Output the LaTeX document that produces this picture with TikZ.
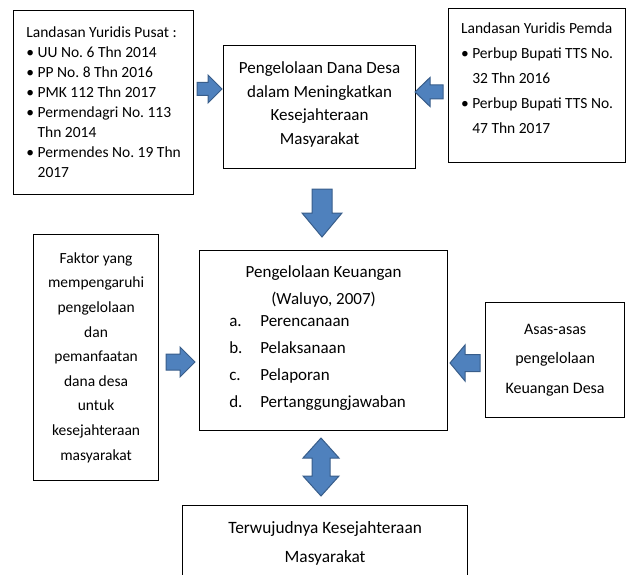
\documentclass[tikz,border=0pt]{standalone}
\usepackage{fontspec}
\setmainfont{Carlito}
\frenchspacing
\definecolor{arrowblue}{RGB}{79,129,189}
\definecolor{arrowedge}{RGB}{56,93,138}
\newcommand{\bulletitem}{\textbullet\hspace{3.5pt}}
\newcommand{\bulletgap}{\hphantom{\textbullet\hspace{3.5pt}}}
\tikzset{
  frame box/.style 2 args={
    draw=black,
    line width=1.2pt,
    minimum width={#1},
    minimum height={#2},
    inner sep=0pt,
    anchor=north west,
  },
  arrow body/.style={
    fill=arrowblue,
    draw=arrowedge,
    line width=1pt,
    line join=miter,
  },
  pics/block arrow/.style n args={4}{code={
    \draw [arrow body] (0,-#4) -- (#1-#2,-#4) -- (#1-#2,-#3) -- (#1,0)
      -- (#1-#2,#3) -- (#1-#2,#4) -- (0,#4) -- cycle;
  }},
  pics/double block arrow/.style n args={4}{code={
    \draw [arrow body] (0,0) -- (#2,-#3) -- (#2,-#4) -- (#1-#2,-#4) -- (#1-#2,-#3)
      -- (#1,0) -- (#1-#2,#3) -- (#1-#2,#4) -- (#2,#4) -- (#2,#3) -- cycle;
  }},
}

\begin{document}
\begin{tikzpicture}[x=1pt, y=-1pt]
    \useasboundingbox (0,0) rectangle (626,575);
    \clip (0,0) rectangle (626,575);

    \node [frame box={180}{184}, align=left,
           font=\fontsize{15.5}{20}\selectfont] (pusat) at (13,10)
      {Landasan Yuridis Pusat :\\
       \bulletitem UU No. 6 Thn 2014\\
       \bulletitem PP No. 8 Thn 2016\\
       \bulletitem PMK 112 Thn 2017\\
       \bulletitem Permendagri No. 113\\
       \bulletgap Thn 2014\\
       \bulletitem Permendes No. 19 Thn\\
       \bulletgap 2017};
    \node [frame box={192}{123}, align=center,
           font=\fontsize{17}{23.5}\selectfont] (dana) at (223,45)
      {Pengelolaan Dana Desa\\ dalam Meningkatkan\\ Kesejahteraan\\
       Masyarakat\rule[-8pt]{0pt}{8pt}};
    \node [frame box={177}{154}, align=left,
           font=\fontsize{15.5}{25}\selectfont] (pemda) at (448,8)
      {Landasan Yuridis Pemda\\
       \bulletitem Perbup Bupati TTS No.\\
       \bulletgap 32 Thn 2016\\
       \bulletitem Perbup Bupati TTS No.\\
       \bulletgap 47 Thn 2017\rule[-14pt]{0pt}{14pt}};
    \node [frame box={125}{246}, align=center,
           font=\fontsize{15.5}{24.6}\selectfont] (faktor) at (33,234)
      {Faktor yang\\ mempengaruhi\\ pengelolaan\\ dan\\ pemanfaatan\\
       dana desa\\ untuk\\ kesejahteraan\\ masyarakat};
    \node [frame box={248}{180}, align=center,
           font=\fontsize{17}{27}\selectfont] (keuangan) at (199,250)
      {Pengelolaan Keuangan\\ (Waluyo, 2007)\\
       \begin{tabular}{@{}p{31pt}@{}l@{}}
         a. & Perencanaan\\
         b. & Pelaksanaan\\
         c. & Pelaporan\\
         d. & Pertanggungjawaban
       \end{tabular}\hspace*{12pt}};
    \node [frame box={139}{115}, align=center,
           font=\fontsize{16}{29.5}\selectfont] (asas) at (485,302)
      {Asas-asas\\ pengelolaan\\ Keuangan Desa};
    \node [frame box={285}{75}, align=center,
           font=\fontsize{17.3}{29}\selectfont] (wujud) at (182,505)
      {Terwujudnya Kesejahteraan\\ Masyarakat};

    % block arrows
    \pic at (197,89) {block arrow={25}{14}{14}{6.5}};
    \pic [rotate=180] at (443,92) {block arrow={28}{15}{14.5}{7}};
    \pic [rotate=-90] at (322,189) {block arrow={48}{24}{20}{10}};
    \pic at (166,362) {block arrow={29}{15}{15}{8}};
    \pic [rotate=180] at (480,363) {block arrow={30}{15}{18}{8.5}};
    \pic [rotate=-90] at (321,438) {double block arrow={58}{20}{18}{9}};
\end{tikzpicture}
\end{document}
